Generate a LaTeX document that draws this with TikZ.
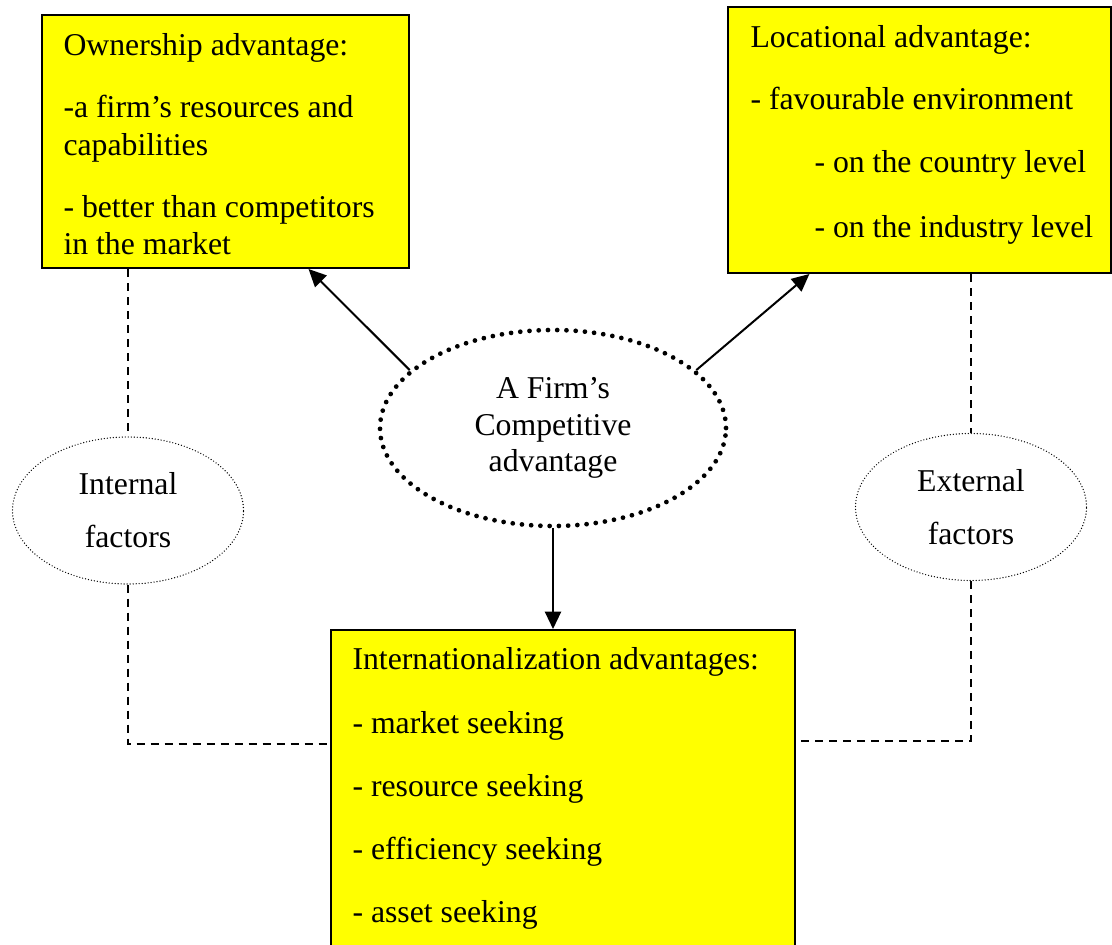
\documentclass[tikz,border=0pt]{standalone}
\usepackage{fontspec}
\setmainfont{Liberation Serif}
\usetikzlibrary{shapes.geometric,arrows.meta,calc}
\definecolor{boxyellow}{RGB}{255,255,0}
\begin{document}
\begin{tikzpicture}[x=0.4pt,y=-0.4pt,
  box/.style={rectangle,draw=black,fill=boxyellow,line width=0.8pt,inner sep=0pt},
  txt/.style={anchor=base west,inner sep=0pt,font=\fontsize{12.7}{15}\selectfont},
  bigell/.style={ellipse,draw,line width=1.9pt,dash pattern=on 0pt off 3.7pt,line cap=round,inner sep=0pt,minimum width=138.4pt,minimum height=78.4pt,align=center,font=\fontsize{12.7}{14.6}\selectfont},
  smallell/.style={ellipse,draw,line width=0.55pt,dash pattern=on 0pt off 1.2pt,line cap=round,inner sep=0pt,minimum width=92.4pt,minimum height=58.8pt,align=center,font=\fontsize{12.7}{21.2}\selectfont},
  arr/.style={line width=0.8pt,-{Triangle[length=7pt,width=6.5pt]}},
  dline/.style={line width=0.85pt,dash pattern=on 3.2pt off 2.4pt}]
\useasboundingbox (0,0) rectangle (1112,945);

% boxes
\node[box,minimum width=146.8pt,minimum height=101.2pt] (own) at (225.5,141.5) {};
\node[box,minimum width=153.2pt,minimum height=106.4pt] (loc) at (919.5,140) {};
\node[box,minimum width=185.6pt,minimum height=134pt] (intl) at (563,797.5) {};

% ownership text
\node[txt] (o1) at (63,56) {Ownership advantage:};
\node[txt] (o2) at (63,118) {-a firm’s resources and};
\node[txt] (o3) at (63,156) {capabilities};
\node[txt] (o4) at (63,218) {- better than competitors};
\node[txt] (o5) at (63,255) {in the market};

% locational text
\node[txt] (l1) at (750,48) {Locational advantage:};
\node[txt] (l2) at (750,110) {- favourable environment};
\node[txt] (l3) at (814,173) {- on the country level};
\node[txt] (l4) at (814,238) {- on the industry level};

% internationalization text
\node[txt] (i1) at (352,669) {Internationalization advantages:};
\node[txt] (i2) at (352,733) {- market seeking};
\node[txt] (i3) at (352,796) {- resource seeking};
\node[txt] (i4) at (352,859) {- efficiency seeking};
\node[txt] (i5) at (352,922) {- asset seeking};

% ellipses
\node[bigell] (cf) at (553,428) {A Firm’s\\Competitive\\advantage};
\node[smallell] (int) at (128,510.5) {Internal\\factors};
\node[smallell] (ext) at (971,507) {External\\factors};

% arrows
\draw[arr] (cf.158) -- ($(own.south west)!0.725!(own.south east)$);
\draw[arr] (cf.22) -- ($(loc.south west)!0.214!(loc.south east)$);
\draw[arr] (cf.south) -- (cf.south |- intl.north);

% dashed connectors
\draw[dline] (own.south -| int.north) -- (int.north);
\draw[dline] (int.south) |- ($(intl.north west)+(0,115)$);
\draw[dline] (loc.south -| ext.north) -- (ext.north);
\draw[dline] (ext.south) |- ($(intl.north east)+(0,112)$);
\end{tikzpicture}
\end{document}
